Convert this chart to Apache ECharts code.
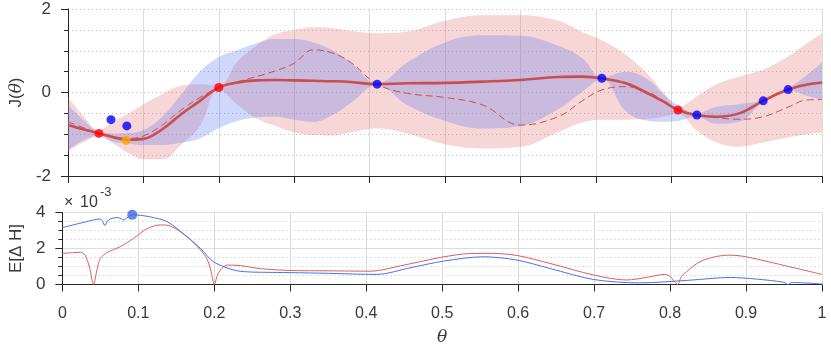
<!DOCTYPE html>
<html>
<head>
<meta charset="utf-8">
<script src="https://cdn.jsdelivr.net/npm/echarts@6/dist/echarts.min.js"></script>
<style>
html,body{margin:0;padding:0;background:#fff;}
#chart{width:831px;height:348px;}
</style>
</head>
<body>
<div id="chart"></div>
<script>
// ---------- top panel data ----------
const bandTheta = [0,0.02,0.041,0.06,0.08,0.1,0.125,0.15,0.175,0.2,0.225,0.25,0.275,0.3,0.325,0.35,0.375,0.41,0.45,0.5,0.55,0.6,0.65,0.682,0.708,0.74,0.77,0.79,0.809,0.833,0.86,0.89,0.922,0.955,0.98,1];
const pinkUpper = [-0.12,-0.55,-0.9,-0.7,-0.5,-0.28,-0.04,0.16,0.2,0.17,0.75,1.12,1.4,1.5,1.56,1.54,1.48,1.42,1.46,1.72,1.85,1.85,1.72,1.45,1.25,0.9,0.42,0.0,-0.35,-0.1,0.2,0.38,0.55,0.86,1.18,1.42];
const pinkLower = [-1.42,-1.2,-1.06,-1.22,-1.45,-1.6,-1.6,-1.25,-0.8,0.07,-0.3,-0.62,-0.8,-0.95,-1.02,-1.03,-0.95,-0.86,-0.98,-1.24,-1.34,-1.3,-0.95,-0.72,-0.65,-0.65,-0.63,-0.58,-0.5,-0.9,-1.2,-1.3,-1.2,-1.08,-1.0,-0.96];
const blueUpper = [-0.3,-0.65,-0.94,-0.98,-0.97,-0.9,-0.58,-0.05,0.5,0.85,1.02,1.18,1.28,1.28,1.2,1.02,0.72,0.22,0.72,1.2,1.37,1.36,1.12,0.82,0.36,0.5,0.3,-0.05,-0.3,-0.5,-0.34,-0.28,-0.18,0.1,0.42,0.72];
const blueLower = [-1.38,-1.15,-1.03,-1.18,-1.22,-1.26,-1.26,-1.2,-1.1,-0.85,-0.68,-0.6,-0.58,-0.65,-0.7,-0.55,-0.25,0.18,-0.3,-0.68,-0.86,-0.8,-0.4,0.02,0.32,-0.45,-0.68,-0.7,-0.68,-0.58,-0.75,-0.7,-0.22,0.06,-0.08,-0.18];
const meanJ = [-0.78,-0.88,-0.98,-1.07,-1.13,-1.11,-0.88,-0.52,-0.2,0.12,0.24,0.29,0.3,0.29,0.28,0.27,0.25,0.2,0.22,0.23,0.26,0.3,0.37,0.38,0.34,0.22,-0.03,-0.22,-0.42,-0.54,-0.58,-0.5,-0.2,0.07,0.19,0.24];
const trueJ = [-0.7,-0.84,-0.98,-1.06,-1.1,-1.04,-0.78,-0.42,-0.12,0.12,0.26,0.38,0.52,0.7,1.02,0.95,0.72,0.2,-0.02,-0.12,-0.3,-0.78,-0.58,-0.2,0.06,0.14,0.0,-0.2,-0.42,-0.52,-0.6,-0.64,-0.58,-0.35,-0.18,-0.17];
const redPts = [[0.041,-0.98],[0.2,0.12],[0.809,-0.42]];
const bluePts = [[0.057,-0.65],[0.078,-0.8],[0.41,0.2],[0.708,0.34],[0.834,-0.54],[0.922,-0.2],[0.955,0.07]];
const orangePts = [[0.077,-1.15]];

// ---------- bottom panel data (units of 1e-3) ----------
const eRedTheta = [0,0.015,0.024,0.03,0.036,0.041,0.046,0.05,0.059,0.076,0.094,0.111,0.129,0.142,0.164,0.182,0.19,0.196,0.2,0.204,0.208,0.217,0.234,0.261,0.3,0.35,0.405,0.45,0.5,0.537,0.566,0.6,0.642,0.7,0.743,0.77,0.793,0.8,0.806,0.81,0.815,0.822,0.839,0.86,0.879,0.9,0.958,1];
const eRed = [1.73,1.77,1.79,1.63,0.9,0,0.9,1.45,1.78,2.1,2.57,3.09,3.31,3.25,2.66,1.9,1.45,0.7,0,0.5,0.8,1.08,1.05,0.88,0.78,0.76,0.74,1.08,1.52,1.72,1.73,1.6,1.17,0.52,0.25,0.4,0.56,0.45,0.15,0,0.45,0.72,1.26,1.55,1.63,1.54,0.98,0.56];
const eBlueTheta = [0,0.025,0.05,0.053,0.056,0.059,0.063,0.072,0.078,0.081,0.085,0.092,0.114,0.138,0.164,0.182,0.199,0.226,0.244,0.263,0.3,0.35,0.414,0.458,0.502,0.554,0.598,0.642,0.699,0.76,0.826,0.879,0.914,0.95,0.955,0.96,1];
const eBlue = [3.16,3.42,3.64,3.5,3.27,3.5,3.64,3.72,3.65,3.58,3.7,3.87,3.77,3.49,2.66,2.0,1.26,0.8,0.7,0.68,0.66,0.62,0.56,0.93,1.3,1.54,1.36,0.89,0.28,0.09,0.24,0.39,0.3,0.12,0.0,0.11,0.03];
const eBest = [[0.092,3.87]];

const xTicks = [0,0.1,0.2,0.3,0.4,0.5,0.6,0.7,0.8,0.9,1];

// ---------- build ----------
const zip = (xs, ys) => xs.map((x,i)=>[x, ys[i]]);
// value first, theta second (so stacking happens on the value dimension)
const zipVT = (xs, ys) => xs.map((x,i)=>[ys[i], x]);
const diff = (u, l) => u.map((v,i)=>v - l[i]);

const AX = '#262626';
const TXT = '#3a3a3a';
const FONT = 'Liberation Sans, Arial, Helvetica, sans-serif';
const gridSolid = {show:true, lineStyle:{color:'#dcdcdc', width:1}};
const gridDot = {show:true, lineStyle:{color:'#bdbdbd', width:1, type:[1,3]}};

function bandSeries(name, lower, upper, color){
  return [
    {name:name+'L', type:'line', xAxisIndex:0, yAxisIndex:0, stack:name, stackStrategy:'all',
     encode:{x:1, y:0},
     data: zipVT(bandTheta, lower), smooth:0.4, symbol:'none', lineStyle:{opacity:0}, silent:true, z:1},
    {name:name+'B', type:'line', xAxisIndex:0, yAxisIndex:0, stack:name, stackStrategy:'all',
     encode:{x:1, y:0},
     data: zipVT(bandTheta, diff(upper, lower)), smooth:0.4, symbol:'none', lineStyle:{opacity:0},
     areaStyle:{color:color, opacity:1}, silent:true, z:1}
  ];
}

const chart = echarts.init(document.getElementById('chart'), null, {renderer:'canvas'});
const option = {
  animation:false,
  backgroundColor:'#ffffff',
  textStyle:{fontFamily:FONT},
  grid:[
    {left:62, top:9, width:760, height:167},
    {left:62, top:212.5, width:760, height:72}
  ],
  xAxis:[
    {gridIndex:0, type:'value', min:0, max:1, interval:0.1,
     axisLine:{show:true, onZero:false, lineStyle:{color:AX, width:1}},
     axisTick:{show:true, inside:false, length:7, lineStyle:{color:AX}},
     axisLabel:{show:false}, splitLine:gridSolid},
    {gridIndex:1, type:'value', min:0, max:1, interval:0.1,
     axisLine:{show:true, onZero:false, lineStyle:{color:AX, width:1}},
     axisTick:{show:true, inside:false, length:7, lineStyle:{color:AX}},
     axisLabel:{show:true, margin:21, fontSize:16, color:TXT, fontFamily:FONT,
       formatter:(v)=>{ const t = xTicks.find(k=>Math.abs(k-v)<1e-9); return t===undefined? '' : String(t); }},
     splitLine:gridSolid,
     name:'θ', nameLocation:'middle', nameGap:45,
     nameTextStyle:{fontSize:17, fontStyle:'italic', color:TXT, fontFamily:'DejaVu Serif, serif'}}
  ],
  yAxis:[
    {gridIndex:0, type:'value', min:-2, max:2, interval:2,
     axisLine:{show:true, onZero:false, lineStyle:{color:AX, width:1}},
     axisTick:{show:true, inside:false, length:7, lineStyle:{color:AX}},
     minorTick:{show:true, splitNumber:4, length:4, lineStyle:{color:AX}},
     axisLabel:{show:true, margin:17, fontSize:17, color:TXT, fontFamily:FONT},
     splitLine:gridDot, minorSplitLine:gridDot,
     name:'{a|J(}{b|θ}{a|)}', nameLocation:'middle', nameGap:36, nameRotate:90,
     nameTextStyle:{rich:{a:{fontSize:17, color:TXT, fontFamily:FONT}, b:{fontSize:17, color:TXT, fontStyle:'italic', fontFamily:'DejaVu Serif, serif'}}}},
    {gridIndex:1, type:'value', min:0, max:4, interval:2,
     axisLine:{show:true, onZero:false, lineStyle:{color:AX, width:1}},
     axisTick:{show:true, inside:false, length:7, lineStyle:{color:AX}},
     minorTick:{show:true, splitNumber:4, length:4, lineStyle:{color:AX}},
     axisLabel:{show:true, margin:17, fontSize:17, color:TXT, fontFamily:FONT},
     splitLine:gridSolid, minorSplitLine:gridDot,
     name:'E[Δ H]', nameLocation:'middle', nameGap:36, nameRotate:90,
     nameTextStyle:{fontSize:17, color:TXT, fontFamily:FONT}}
  ],
  graphic:[
    {type:'text', left:64, top:195, style:{text:'×', fontSize:16, fill:TXT, fontFamily:FONT}, z:10},
    {type:'text', left:80, top:195, style:{text:'10', fontSize:16, fill:TXT, fontFamily:FONT}, z:10},
    {type:'text', left:100, top:186, style:{text:'-3', fontSize:13, fill:TXT, fontFamily:FONT}, z:10}
  ],
  series:[
    ...bandSeries('pink', pinkLower, pinkUpper, 'rgba(228,118,124,0.30)'),
    ...bandSeries('blue', blueLower, blueUpper, 'rgba(96,124,238,0.30)'),
    {type:'line', xAxisIndex:0, yAxisIndex:0, data:zip(bandTheta, trueJ), smooth:0.4, symbol:'none',
     lineStyle:{color:'#cc4d4d', width:1, type:[7,4]}, z:3},
    {type:'line', xAxisIndex:0, yAxisIndex:0, data:zip(bandTheta, meanJ), smooth:0.4, symbol:'none',
     lineStyle:{color:'#cc4d4d', width:2.6}, z:4},
    {type:'scatter', xAxisIndex:0, yAxisIndex:0, data:redPts, symbolSize:9, itemStyle:{color:'#ff0000'}, z:5},
    {type:'scatter', xAxisIndex:0, yAxisIndex:0, data:bluePts, symbolSize:9, itemStyle:{color:'#0000ff'}, z:5},
    {type:'scatter', xAxisIndex:0, yAxisIndex:0, data:orangePts, symbolSize:9, itemStyle:{color:'#ffa500'}, z:5},
    {type:'line', xAxisIndex:1, yAxisIndex:1, data:zip(eRedTheta, eRed), smooth:0.3, symbol:'none',
     lineStyle:{color:'#d9605e', width:1}, z:3},
    {type:'line', xAxisIndex:1, yAxisIndex:1, data:zip(eBlueTheta, eBlue), smooth:0.3, symbol:'none',
     lineStyle:{color:'#4a72e6', width:1}, z:3},
    {type:'scatter', xAxisIndex:1, yAxisIndex:1, data:eBest, symbolSize:10, itemStyle:{color:'#4169e1'}, z:5}
  ]
};
chart.setOption(option);
</script>
</body>
</html>
